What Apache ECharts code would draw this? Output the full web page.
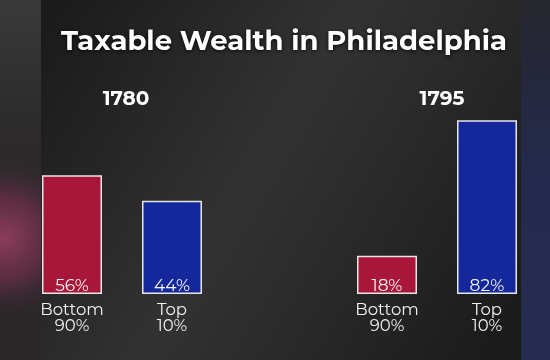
<!DOCTYPE html>
<html><head><meta charset="utf-8">
<script src="https://cdn.jsdelivr.net/npm/echarts@6/dist/echarts.min.js"></script>
<style>html,body{margin:0;padding:0;background:#222}#c{width:550px;height:360px}</style>
</head><body><div id="c"></div>
<script>
const titleText = 'Taxable Wealth in Philadelphia';
const years = ['1780', '1795'];
const categories = ['Bottom\n90%', 'Top\n10%'];
const values1780 = [56, 44];
const values1795 = [18, 82];
const barColors = ['#a8163a', '#14289c'];

const chart = echarts.init(document.getElementById('c'));
const font = 'Montserrat, "Open Sans", "DejaVu Sans", sans-serif';

function barSeries(vals, idx) {
  return {
    type: 'bar', xAxisIndex: idx, yAxisIndex: idx, barWidth: 60,
    data: vals.map((v, i) => ({ value: v, itemStyle: { color: barColors[i] } })),
    itemStyle: { borderColor: '#e6e6e6', borderWidth: 1.5 },
    label: { show: true, position: 'insideBottom', distance: 0, formatter: '{c}%',
      color: '#f2f2f2', fontSize: 17, fontFamily: font },
    animation: false
  };
}
function xAx(idx) {
  return { type: 'category', gridIndex: idx, data: categories,
    axisLine: { show: false }, axisTick: { show: false },
    axisLabel: { color: '#f0f0f0', fontSize: 16.5, lineHeight: 16, margin: 8, fontFamily: font } };
}
function yAx(idx) {
  return { type: 'value', gridIndex: idx, min: 0, max: 100, show: false };
}

chart.setOption({
  backgroundColor: '#262626',
  graphic: [
    { type: 'rect', silent: true, z: -10, shape: { x: 0, y: 0, width: 41, height: 360 },
      style: { fill: new echarts.graphic.LinearGradient(0, 0, 0, 1, [
        { offset: 0, color: '#3a3a3a' }, { offset: 0.35, color: '#2c2a2b' }, { offset: 1, color: '#2a2629' }]) } },
    { type: 'rect', silent: true, z: -9, shape: { x: 0, y: 120, width: 41, height: 240 },
      style: { fill: new echarts.graphic.RadialGradient(5, 238, 80, [
        { offset: 0, color: 'rgba(140,60,92,1)' }, { offset: 0.5, color: 'rgba(112,48,76,0.7)' }, { offset: 1, color: 'rgba(60,40,50,0)' }], true) } },
    { type: 'rect', silent: true, z: -10, shape: { x: 521, y: 0, width: 29, height: 360 },
      style: { fill: new echarts.graphic.LinearGradient(0, 0, 0, 1, [
        { offset: 0, color: '#26262e' }, { offset: 0.5, color: '#232a4e' }, { offset: 1, color: '#262c50' }]) } },
    { type: 'rect', silent: true, z: -10, shape: { x: 41, y: 0, width: 480, height: 360 },
      style: { fill: new echarts.graphic.LinearGradient(0, 0.1, 1, 0.9, [
        { offset: 0, color: '#1b1b1b' }, { offset: 0.45, color: '#323232' },
        { offset: 0.6, color: '#2c2c2c' }, { offset: 1, color: '#1a1a1a' }]) } }
  ],
  title: [
    { text: titleText, left: 279, top: 23, textAlign: 'center',
      textStyle: { color: '#ffffff', fontSize: 27.5, fontWeight: 'bold', fontFamily: font,
        textShadowColor: 'rgba(0,0,0,0.8)', textShadowBlur: 4, textShadowOffsetY: 1 } },
    { text: years[0], left: 121, top: 84, textAlign: 'center',
      textStyle: { color: '#ffffff', fontSize: 20, fontWeight: 'bold', fontFamily: font } },
    { text: years[1], left: 437, top: 84, textAlign: 'center',
      textStyle: { color: '#ffffff', fontSize: 20, fontWeight: 'bold', fontFamily: font } }
  ],
  grid: [
    { left: 22, width: 200, top: 82, bottom: 66 },
    { left: 337, width: 200, top: 82, bottom: 66 }
  ],
  xAxis: [xAx(0), xAx(1)],
  yAxis: [yAx(0), yAx(1)],
  series: [barSeries(values1780, 0), barSeries(values1795, 1)]
});
</script></body></html>
